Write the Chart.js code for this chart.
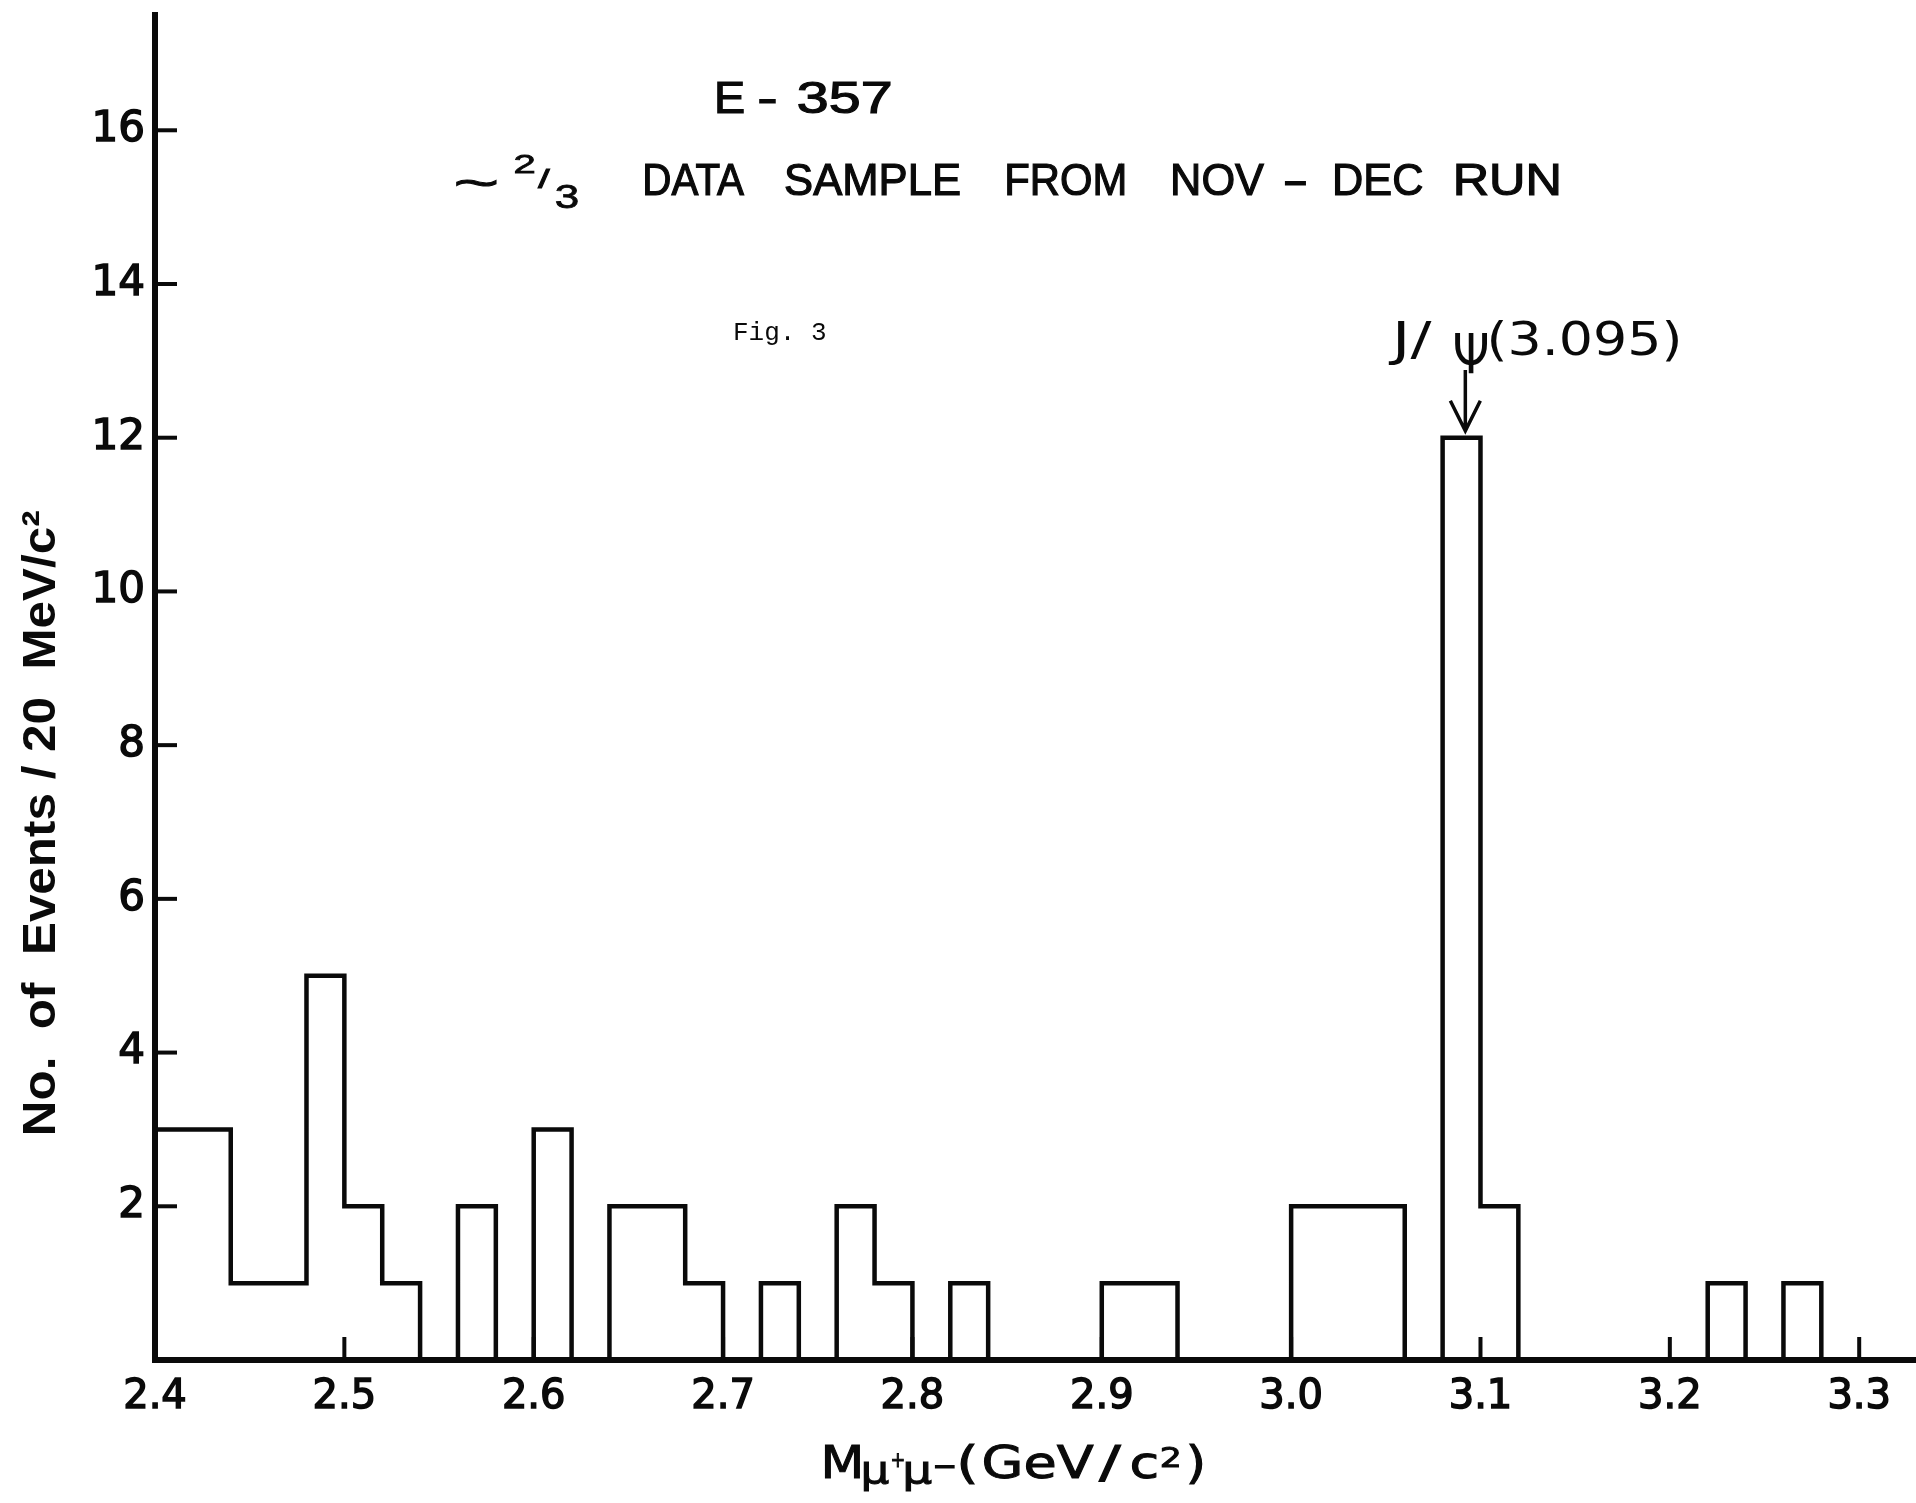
<!DOCTYPE html>
<html lang="en">
<head>
  <meta charset="UTF-8">
  <title>E-357 dimuon mass spectrum</title>
  <script src="https://cdn.jsdelivr.net/npm/chart.js"></script>
  <style>
    body { margin: 0; background: #fff; }
    #wrap { width: 1916px; height: 1503px; }
  </style>
</head>
<body>
  <div id="wrap"><canvas id="chart"></canvas></div>

  <script>
    // lower edge of each 20 MeV bin (GeV/c^2)
    const binEdges = [
      2.40, 2.42, 2.44, 2.46, 2.48, 2.50, 2.52, 2.54, 2.56, 2.58,
      2.60, 2.62, 2.64, 2.66, 2.68, 2.70, 2.72, 2.74, 2.76, 2.78,
      2.80, 2.82, 2.84, 2.86, 2.88, 2.90, 2.92, 2.94, 2.96, 2.98,
      3.00, 3.02, 3.04, 3.06, 3.08, 3.10, 3.12, 3.14, 3.16, 3.18,
      3.20, 3.22, 3.24, 3.26, 3.28, 3.30
    ];
    // events in each bin
    const binCounts = [
      3, 3, 1, 1, 5, 2, 1, 0, 2, 0,
      3, 0, 2, 2, 1, 0, 1, 0, 2, 1,
      0, 1, 0, 0, 0, 1, 1, 0, 0, 0,
      2, 2, 2, 0, 12, 2, 0, 0, 0, 0,
      0, 1, 0, 1, 0, 0
    ];
    const xTickValues = [2.4, 2.5, 2.6, 2.7, 2.8, 2.9, 3.0, 3.1, 3.2, 3.3];
    const yTickValues = [2, 4, 6, 8, 10, 12, 14, 16];
    const psiMass = 3.092;   // where the arrow points
    const psiPeak = 12;

    const INK = '#0a0a0a';

    // draw text squeezed/stretched so its ink spans left..right
    function fitText(ctx, text, left, right, y, font, baseline, stroke) {
      ctx.save();
      ctx.font = font;
      ctx.textAlign = 'left';
      ctx.textBaseline = baseline || 'alphabetic';
      const m = ctx.measureText(text);
      const inkW = m.actualBoundingBoxLeft + m.actualBoundingBoxRight;
      const s = (right - left) / inkW;
      ctx.translate(left + m.actualBoundingBoxLeft * s, y);
      ctx.scale(s, 1);
      ctx.fillText(text, 0, 0);
      if (stroke) {
        ctx.lineWidth = stroke;
        ctx.strokeText(text, 0, 0);
      }
      ctx.restore();
    }

    const extras = {
      id: 'extras',
      afterDraw(chart) {
        const ctx = chart.ctx;
        const xs = chart.scales.x, ys = chart.scales.y;
        const area = chart.chartArea;
        ctx.save();
        ctx.strokeStyle = INK;
        ctx.fillStyle = INK;
        ctx.lineCap = 'butt';

        // tick marks pointing into the plot
        ctx.lineWidth = 4;
        xTickValues.slice(1).forEach(v => {
          const px = xs.getPixelForValue(v);
          ctx.beginPath();
          ctx.moveTo(px, area.bottom);
          ctx.lineTo(px, area.bottom - 23);
          ctx.stroke();
        });
        yTickValues.forEach(v => {
          const py = ys.getPixelForValue(v);
          ctx.beginPath();
          ctx.moveTo(area.left, py);
          ctx.lineTo(area.left + 22, py);
          ctx.stroke();
        });

        // heading
        const cond = '45px "Liberation Sans"';
        fitText(ctx, 'E', 717, 744, 113, cond, null, 1.2);
        fitText(ctx, '-', 760, 775, 113, cond, null, 1.2);
        fitText(ctx, '357', 798, 890, 113, cond, null, 1.2);

        fitText(ctx, '~', 457, 497, 186, cond, 'middle', 1);
        fitText(ctx, '2', 515, 535, 173, '26px "Liberation Sans"', null, 0.8);
        fitText(ctx, '/', 538, 551, 188, '26px "Liberation Sans"', null, 0.8);
        fitText(ctx, '3', 556, 578, 208, '34px "Liberation Sans"', null, 0.8);
        fitText(ctx, 'DATA', 645, 744, 195, cond, null, 1.2);
        fitText(ctx, 'SAMPLE', 786, 960, 195, cond, null, 1.2);
        fitText(ctx, 'FROM', 1007, 1124, 195, cond, null, 1.2);
        fitText(ctx, 'NOV', 1173, 1264, 195, cond, null, 1.2);
        fitText(ctx, '-', 1286, 1305, 195, cond, null, 1.2);
        fitText(ctx, 'DEC', 1335, 1422, 195, cond, null, 1.2);
        fitText(ctx, 'RUN', 1456, 1558, 195, cond, null, 1.2);

        ctx.font = '26px "Liberation Mono"';
        ctx.textBaseline = 'alphabetic';
        ctx.fillText('Fig. 3', 733, 340);

        // J/psi label and arrow
        const lab = '46px "DejaVu Sans"';
        fitText(ctx, 'J/', 1388, 1432, 355, lab);
        fitText(ctx, 'Ψ', 1455, 1487, 373, '56px "DejaVu Sans"');
        fitText(ctx, '(3.095)', 1490, 1678, 355, lab);

        const ax = xs.getPixelForValue(psiMass);
        const tip = ys.getPixelForValue(psiPeak) - 7;
        ctx.lineWidth = 3.5;
        ctx.beginPath();
        ctx.moveTo(ax, 370);
        ctx.lineTo(ax, tip);
        ctx.moveTo(ax - 15, tip - 30);
        ctx.lineTo(ax, tip);
        ctx.lineTo(ax + 15, tip - 30);
        ctx.stroke();

        // y axis title
        ctx.save();
        ctx.translate(55, 1133);
        ctx.rotate(-Math.PI / 2);
        fitText(ctx, 'No.  of  Events / 20  MeV/c²', 0, 622, 0, 'bold 47px "Liberation Sans"');
        ctx.restore();

        // x axis title
        const xt = '45px "DejaVu Sans"';
        const sub = '38px "DejaVu Sans"';
        fitText(ctx, 'M', 825, 860, 1478, xt, null, 1);
        fitText(ctx, 'μ', 864, 889, 1483, sub, null, 1);
        fitText(ctx, '+', 892, 904, 1461, '22px "DejaVu Sans"', 'middle', 1);
        fitText(ctx, 'μ', 906, 932, 1483, sub, null, 1);
        fitText(ctx, '-', 935, 955, 1467, '30px "DejaVu Sans"', 'middle', 1);
        fitText(ctx, '(', 960, 974, 1478, xt, null, 1);
        fitText(ctx, 'GeV', 984, 1094, 1478, xt, null, 1);
        fitText(ctx, '/', 1099, 1122, 1478, xt, null, 1);
        fitText(ctx, 'c', 1132, 1156, 1478, xt, null, 1);
        fitText(ctx, '2', 1161, 1179, 1467, '27px "DejaVu Sans"', null, 1);
        fitText(ctx, ')', 1189, 1202, 1478, xt, null, 1);

        ctx.restore();
      }
    };

    const histogram = binEdges.map((edge, i) => ({ x: edge, y: binCounts[i] }));

    new Chart(document.getElementById('chart'), {
      type: 'line',
      data: {
        datasets: [{
          data: histogram,
          stepped: 'before',
          borderColor: INK,
          borderWidth: 4.5,
          borderJoinStyle: 'miter',
          borderCapStyle: 'butt',
          pointRadius: 0,
          fill: false
        }]
      },
      options: {
        responsive: true,
        maintainAspectRatio: false,
        animation: false,
        layout: { padding: { top: 15, left: 0, right: 0, bottom: 0 } },
        plugins: {
          legend: { display: false },
          tooltip: { enabled: false }
        },
        scales: {
          x: {
            type: 'linear',
            min: 2.4,
            max: 3.33,
            grid: { display: false, drawTicks: false },
            border: { color: INK, width: 6 },
            afterBuildTicks: s => { s.ticks = xTickValues.map(v => ({ value: v })); },
            afterFit: s => { s.height = 143; s.paddingLeft = 0; s.paddingRight = 0; },
            ticks: {
              color: INK,
              font: { family: 'DejaVu Sans', size: 40 },
              textStrokeColor: INK,
              textStrokeWidth: 1.5,
              padding: 14,
              maxRotation: 0,
              autoSkip: false,
              callback: v => v.toFixed(1)
            }
          },
          y: {
            min: 0,
            max: 17.5,
            grid: { display: false, drawTicks: false },
            border: { color: INK, width: 6 },
            afterBuildTicks: s => { s.ticks = yTickValues.map(v => ({ value: v })); },
            afterFit: s => { s.width = 155; s.paddingTop = 0; s.paddingBottom = 0; },
            ticks: {
              color: INK,
              font: { family: 'DejaVu Sans', size: 42 },
              textStrokeColor: INK,
              textStrokeWidth: 1.5,
              padding: 10,
              autoSkip: false,
              callback: v => String(v)
            }
          }
        }
      },
      plugins: [extras]
    });
  </script>
</body>
</html>
